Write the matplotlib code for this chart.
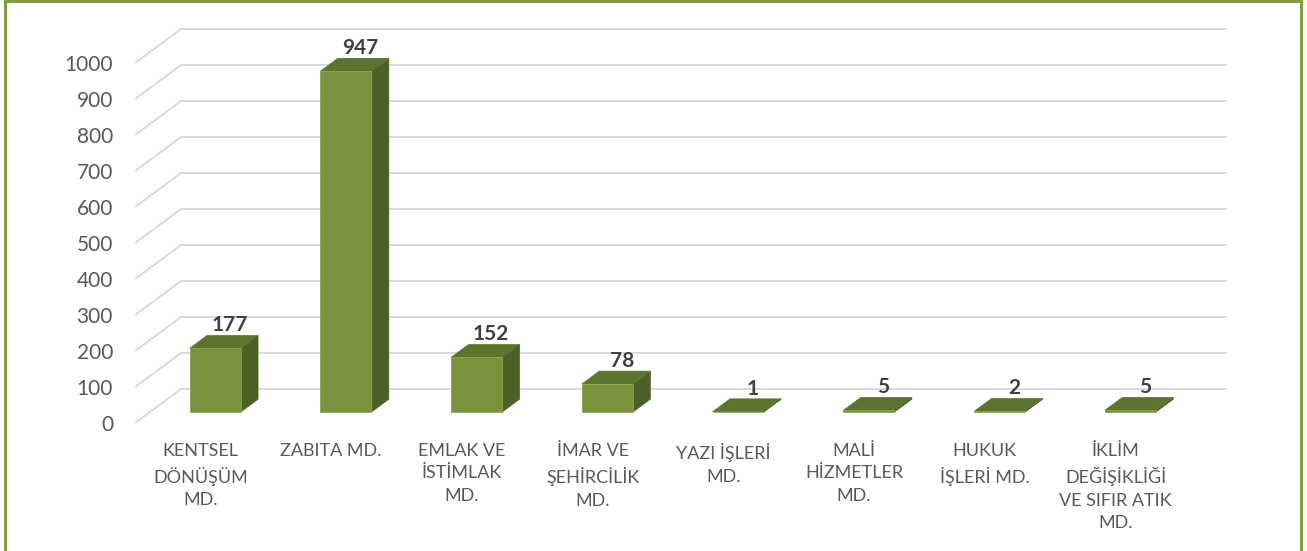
import matplotlib
matplotlib.use("Agg")
import matplotlib.pyplot as plt
from matplotlib.patches import Polygon, Rectangle
from matplotlib.lines import Line2D
from matplotlib.transforms import IdentityTransform

# ---- data -------------------------------------------------------------
categories = [
    "KENTSEL\nDÖNÜŞÜM\nMD.",
    "ZABITA MD.",
    "EMLAK VE\nİSTİMLAK\nMD.",
    "İMAR VE\nŞEHİRCİLİK\nMD.",
    "YAZI İŞLERİ\nMD.",
    "MALİ\nHİZMETLER\nMD.",
    "HUKUK\nİŞLERİ MD.",
    "İKLİM\nDEĞİŞİKLİĞİ\nVE SIFIR ATIK\nMD.",
]
values = [177, 947, 152, 78, 1, 5, 2, 5]
y_ticks = [0, 100, 200, 300, 400, 500, 600, 700, 800, 900, 1000]

# ---- style --------------------------------------------------------------
FONT = ["Lato", "DejaVu Sans"]
FRONT = "#78933C"
TOP = "#5B7531"
SIDE = "#4B6127"
EDGE = "#8AA64E"
GRID = "#D9D9D9"
TEXT = "#595959"
LABEL = "#404040"
BORDER = "#7E9E40"

W, H, DPI = 1307, 551, 100
# oblique depth of the 3D box (pixels right / up)
DEPTH_X, DEPTH_Y = 46, 34
BAR_FRONT, BAR_BACK = 0.32, 0.70   # bar slab position inside the depth
BAR_WIDTH = 0.39

fig = plt.figure(figsize=(W / DPI, H / DPI), dpi=DPI)
fig.patch.set_facecolor("white")

# front plane of the chart (category axis / value axis)
ax = fig.add_axes([135 / W, 128 / H, 1046 / W, 360 / H])
ax.set_xlim(-0.5, len(values) - 0.5)
ax.set_ylim(0, 1000)
ax.axis("off")

ident = IdentityTransform()


def pt(x, v, depth):
    """Display position of data point (x, v) pushed back by `depth` (0..1)."""
    px, py = ax.transData.transform((x, v))
    return (px + depth * DEPTH_X, py + depth * DEPTH_Y)


# gridlines: diagonal on the side wall, horizontal on the back wall
x0, x1 = ax.get_xlim()
for t in y_ticks:
    a = pt(x0, t, 0)
    b = pt(x0, t, 1)
    c = pt(x1, t, 1)
    ax.add_line(Line2D([a[0], b[0], c[0]], [a[1], b[1], c[1]],
                       transform=ident, color=GRID, lw=1.4, zorder=1,
                       clip_on=False, solid_capstyle="butt"))
    fx, fy = pt(x0, t, 0)
    fig.text((fx - 22) / W, (fy - 2) / H, str(t), ha="right", va="center",
             fontsize=15, color=TEXT, family=FONT)

# bars as oblique boxes
for i, v in enumerate(values):
    l, r = i - BAR_WIDTH / 2, i + BAR_WIDTH / 2
    fbl, fbr = pt(l, 0, BAR_FRONT), pt(r, 0, BAR_FRONT)
    ftl, ftr = pt(l, v, BAR_FRONT), pt(r, v, BAR_FRONT)
    bbr = pt(r, 0, BAR_BACK)
    btl, btr = pt(l, v, BAR_BACK), pt(r, v, BAR_BACK)
    ax.add_patch(Polygon([fbr, ftr, btr, bbr], closed=True, transform=ident,
                         facecolor=SIDE, edgecolor=SIDE, lw=0.5, zorder=3,
                         clip_on=False))
    ax.add_patch(Polygon([ftl, ftr, btr, btl], closed=True, transform=ident,
                         facecolor=TOP, edgecolor=TOP, lw=0.5, zorder=4,
                         clip_on=False))
    ax.add_patch(Polygon([fbl, fbr, ftr, ftl], closed=True, transform=ident,
                         facecolor=FRONT, edgecolor=EDGE, lw=0.6, zorder=5,
                         clip_on=False))
    # value label above the top face
    lx = (btl[0] + btr[0]) / 2 - 3
    ly = btr[1] + 10
    fig.text(lx / W, ly / H, str(v), ha="center", va="center",
             fontsize=15, fontweight="bold", color=LABEL, family=FONT)

# category labels under the front plane
for i, name in enumerate(categories):
    cx, cy = pt(i, 0, 0)
    fig.text(cx / W, (cy - 20) / H, name, ha="center", va="top",
             fontsize=13, color=TEXT, family=FONT, linespacing=1.5)

# chart frame
fig.patches.append(Rectangle((5 / W, -0.05), 1296 / W, (H - 1) / H + 0.05,
                             transform=fig.transFigure, fill=False,
                             edgecolor=BORDER, lw=2.2, zorder=0))

fig.savefig("out.png", dpi=DPI, facecolor="white")
